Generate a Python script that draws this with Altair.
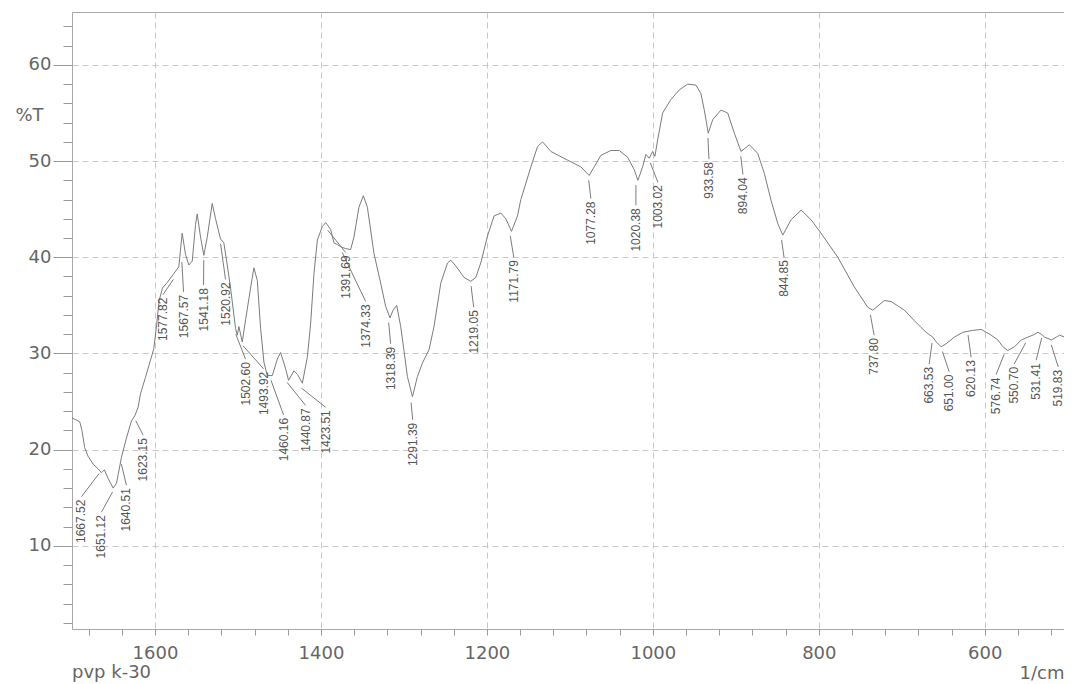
import altair as alt
import pandas as pd

# ---------------- data ----------------
wavenumber = [
    1700, 1690.7, 1688, 1684.7, 1680.6, 1674.5, 1668.5, 1664.5, 1661, 1656.5, 1650.4, 1646.4,
    1644.4, 1640.4, 1634.4, 1628.3, 1624.4, 1620.3, 1617.5, 1611.5, 1605.4, 1601.4, 1598,
    1595, 1591, 1585, 1577.3, 1571.3,
    1567.2, 1563.2, 1559.2, 1555.1, 1551.1, 1549.1, 1545.1, 1541.1, 1537.0, 1531.0, 1527.0,
    1521.0, 1517.0, 1512.9, 1508.9, 1502.9, 1500.8, 1498.9, 1494.8, 1490.8, 1484.8, 1480.8,
    1476.7, 1472.7, 1468.7, 1464.7, 1458.6, 1452.6, 1448.6, 1442.5, 1439.0, 1432.6, 1428.1,
    1422.4, 1416.4, 1412.4, 1408.4, 1404.3, 1398.3, 1394.3, 1388.3, 1384.3, 1379.9, 1376.2,
    1370.2, 1364.2, 1360.2, 1354.2, 1348.9, 1344.0, 1336.1, 1328.0, 1322.0, 1316.8, 1313.0,
    1308.7, 1303.9, 1299.9, 1295.8, 1289.7, 1283.7, 1277.7, 1269.7, 1263.7, 1255.6, 1247.5,
    1243.5, 1237.5, 1227.5, 1219.4, 1213.4, 1207.4, 1199.3, 1191.3, 1183.2, 1177.2, 1170.3,
    1163.1, 1159.1, 1155.1, 1147.0, 1139.0, 1132.9, 1122.9, 1102.8, 1086.8, 1076.7, 1070.7,
    1062.6, 1050.6, 1040.5, 1030.4, 1022.4, 1018.0, 1012.3, 1008.3, 1004.3, 1000.2, 997.5,
    994.2, 988.2, 978.2, 968.1, 958.0, 948.0, 942.0, 938.0, 933.2, 927.9, 917.9, 909.8,
    901.8, 893.7, 883.7, 873.6, 865.6, 857.5, 849.4, 843.4, 833.4, 821.3, 809.3, 797.3,
    777.1, 757.1, 741.0, 735.0, 721.0, 712.9, 696.8, 684.8, 676.7, 670.7, 662.6, 658.6,
    652.6, 646.6, 636.6, 626.5, 614.4, 604.3, 592.3, 584.2, 578.2, 572.2, 564.1, 556.0,
    548.0, 542.0, 535.8, 531.8, 527.8, 519.8, 513.7, 509.8, 503.7, 500,
]
transmittance = [
    23.3, 22.9, 22.0, 20.2, 19.3, 18.5, 18.0, 17.6, 17.9, 17.0, 16.0, 16.5,
    17.4, 19.2, 21.2, 23.0, 23.5, 24.4, 25.8, 27.5, 29.3, 30.5, 33.0,
    35.5, 36.8, 37.4, 38.3, 39.0,
    42.5, 40.3, 39.2, 39.6, 43.4, 44.5, 42.1, 40.2, 42.1, 45.6, 44.0,
    41.9, 41.5, 39.2, 36.8, 32.6, 31.9, 32.8, 31.2, 33.5, 36.8, 38.9,
    37.6, 32.6, 29.1, 27.7, 27.7, 29.4, 30.1, 28.4, 27.2, 28.2, 27.8,
    26.9, 29.6, 33.1, 38.3, 41.8, 43.2, 43.6, 42.9, 41.5, 41.3, 41.1,
    40.9, 40.8, 42.1, 45.2, 46.4, 45.2, 40.4, 37.3, 34.9, 33.7, 34.5,
    35.0, 32.8, 30.3, 27.6, 25.5, 27.6, 29.0, 30.4, 32.8, 37.3, 39.4,
    39.7, 39.1, 37.9, 37.5, 37.9, 39.4, 42.2, 44.3, 44.6, 44.0, 42.7,
    44.3, 46.0, 47.1, 49.4, 51.5, 52.0, 51.0, 50.1, 49.4, 48.5, 49.4,
    50.6, 51.1, 51.1, 50.4, 49.1, 48.0, 49.4, 50.7, 50.3, 51.0, 50.5,
    52.2, 55.0, 56.4, 57.4, 58.0, 57.9, 57.0, 55.3, 52.9, 54.3, 55.3, 55.0,
    52.9, 51.0, 51.7, 50.8, 48.7, 45.9, 43.5, 42.3, 43.9, 44.9, 43.9, 42.5,
    40.0, 36.9, 34.8, 34.5, 35.5, 35.4, 34.5, 33.4, 32.7, 32.2, 31.7, 31.2,
    30.7, 31.0, 31.7, 32.2, 32.4, 32.5, 31.9, 31.4, 30.7, 30.3, 30.7, 31.4,
    31.7, 31.9, 32.2, 32.0, 31.7, 31.4, 31.7, 31.9, 31.7, 31.5,
]

peak_labels = [
    "1667.52", "1651.12", "1640.51", "1623.15", "1577.82", "1567.57", "1541.18", "1520.92",
    "1502.60", "1493.92", "1460.16", "1440.87", "1423.51", "1391.69", "1374.33", "1318.39",
    "1291.39", "1219.05", "1171.79", "1077.28", "1020.38", "1003.02", "933.58", "894.04",
    "844.85", "737.80", "663.53", "651.00", "620.13", "576.74", "550.70", "531.41", "519.83",
]
peak_T = [
    18.0, 16.1, 19.0, 23.5, 38.2, 40.0, 40.2, 41.9, 32.5, 31.3, 27.7, 27.5, 26.9, 43.3,
    41.0, 33.7, 25.4, 37.5, 42.7, 48.5, 48.0, 50.3, 52.9, 51.0, 42.3, 34.5, 31.6, 30.7,
    32.4, 30.4, 31.6, 32.1, 31.4,
]
label_wn = [
    1688.6, 1664.5, 1634.4, 1614.2, 1590.5, 1565.6, 1541.5, 1515.0, 1490.8, 1469.1, 1445.0,
    1418.5, 1394.3, 1370.2, 1346.1, 1316.0, 1289.4, 1215.9, 1167.6, 1074.7, 1020.4, 993.9,
    932.4, 891.4, 841.9, 733.3, 667.0, 642.9, 616.4, 586.3, 564.6, 538.0, 511.5,
]
label_T = [
    14.8, 13.2, 16.0, 21.2, 35.8, 36.1, 36.8, 37.4, 29.1, 28.1, 23.3, 24.3, 24.1, 40.2,
    35.1, 30.7, 22.8, 34.5, 39.7, 45.8, 45.1, 47.5, 49.9, 48.3, 39.7, 31.6, 28.6, 27.8,
    29.3, 27.5, 28.6, 29.0, 28.3,
]

x_ticks = list(range(1680, 519, -40))
y_ticks = list(range(2, 65, 2))
sample_name = "pvp k-30"

# ---------------- tables ----------------
curve = pd.DataFrame({"wn": wavenumber, "T": transmittance})
peaks = pd.DataFrame({
    "label": peak_labels,
    "wn": [float(s) for s in peak_labels],
    "T": peak_T,
    "lx": label_wn,
    "ly": label_T,
})
peaks["lead_start"] = peaks["ly"] + 0.3
peaks["lead_end"] = peaks["T"] - 0.5

GRAY_TXT = "#666666"
FONT = "DejaVu Sans"

x_scale = alt.Scale(domain=[1700, 504.5], nice=False, zero=False)
y_scale = alt.Scale(domain=[1.35, 65.5], nice=False, zero=False)

x_axis = alt.Axis(
    values=x_ticks, format="d", title="1/cm",
    labelExpr="datum.value % 200 === 0 ? datum.label : ''",
    tickSize=6, labelPadding=9,
    gridOpacity={"condition": {"test": "datum.value % 200 === 0", "value": 1}, "value": 0},
    titleX=992, titleY=49, titleAlign="right", titleBaseline="alphabetic", titleAnchor="end",
)
y_axis = alt.Axis(
    values=y_ticks, format="d", title="%T",
    labelExpr="datum.value % 10 === 0 ? datum.label : ''",
    tickSize={"condition": {"test": "datum.value % 10 === 0", "value": 19}, "value": 9},
    labelPadding=2,
    gridOpacity={"condition": {"test": "datum.value % 10 === 0", "value": 1}, "value": 0},
    titleAngle=0, titleX=-43, titleY=103, titleAlign="center", titleBaseline="middle",
)

line = alt.Chart(curve).mark_line(color="#7c7c7c", strokeWidth=1, clip=True).encode(
    x=alt.X("wn:Q", scale=x_scale, axis=x_axis),
    y=alt.Y("T:Q", scale=y_scale, axis=y_axis),
    order="wn:Q",
)

leaders = alt.Chart(peaks).mark_rule(color="#7c7c7c", strokeWidth=1).encode(
    x=alt.X("lx:Q", scale=x_scale, axis=x_axis),
    y=alt.Y("lead_start:Q", scale=y_scale, axis=y_axis),
    x2="wn:Q",
    y2="lead_end:Q",
)

labels = alt.Chart(peaks).mark_text(
    angle=270, align="right", baseline="middle",
    font="Liberation Sans", fontSize=12, color="#555555",
).encode(
    x=alt.X("lx:Q", scale=x_scale, axis=x_axis),
    y=alt.Y("ly:Q", scale=y_scale, axis=y_axis),
    text="label:N",
)

caption = alt.Chart(alt.Data(values=[{"t": sample_name}])).mark_text(
    align="left", baseline="alphabetic", font=FONT, fontSize=18, color=GRAY_TXT,
).encode(x=alt.value(0), y=alt.value(666), text="t:N")

chart = alt.layer(line, leaders, labels, caption).properties(
    width=992, height=617,
    padding={"left": 64, "top": 4, "right": 0, "bottom": 55},
    autosize=alt.AutoSizeParams(type="none"),
).configure_view(
    stroke="#a8a8a8", strokeWidth=1,
).configure_axis(
    domain=False,
    labelFont=FONT, labelFontSize=18, labelColor=GRAY_TXT,
    titleFont=FONT, titleFontSize=18, titleColor=GRAY_TXT, titleFontWeight="normal",
    tickColor="#9a9a9a", tickWidth=1,
    gridColor="#c8c8c8", gridDash=[6, 4], gridWidth=1,
    labelOverlap=False, labelFlush=False,
)

chart.save("out.html", embed_options={"renderer": "svg", "actions": False})
